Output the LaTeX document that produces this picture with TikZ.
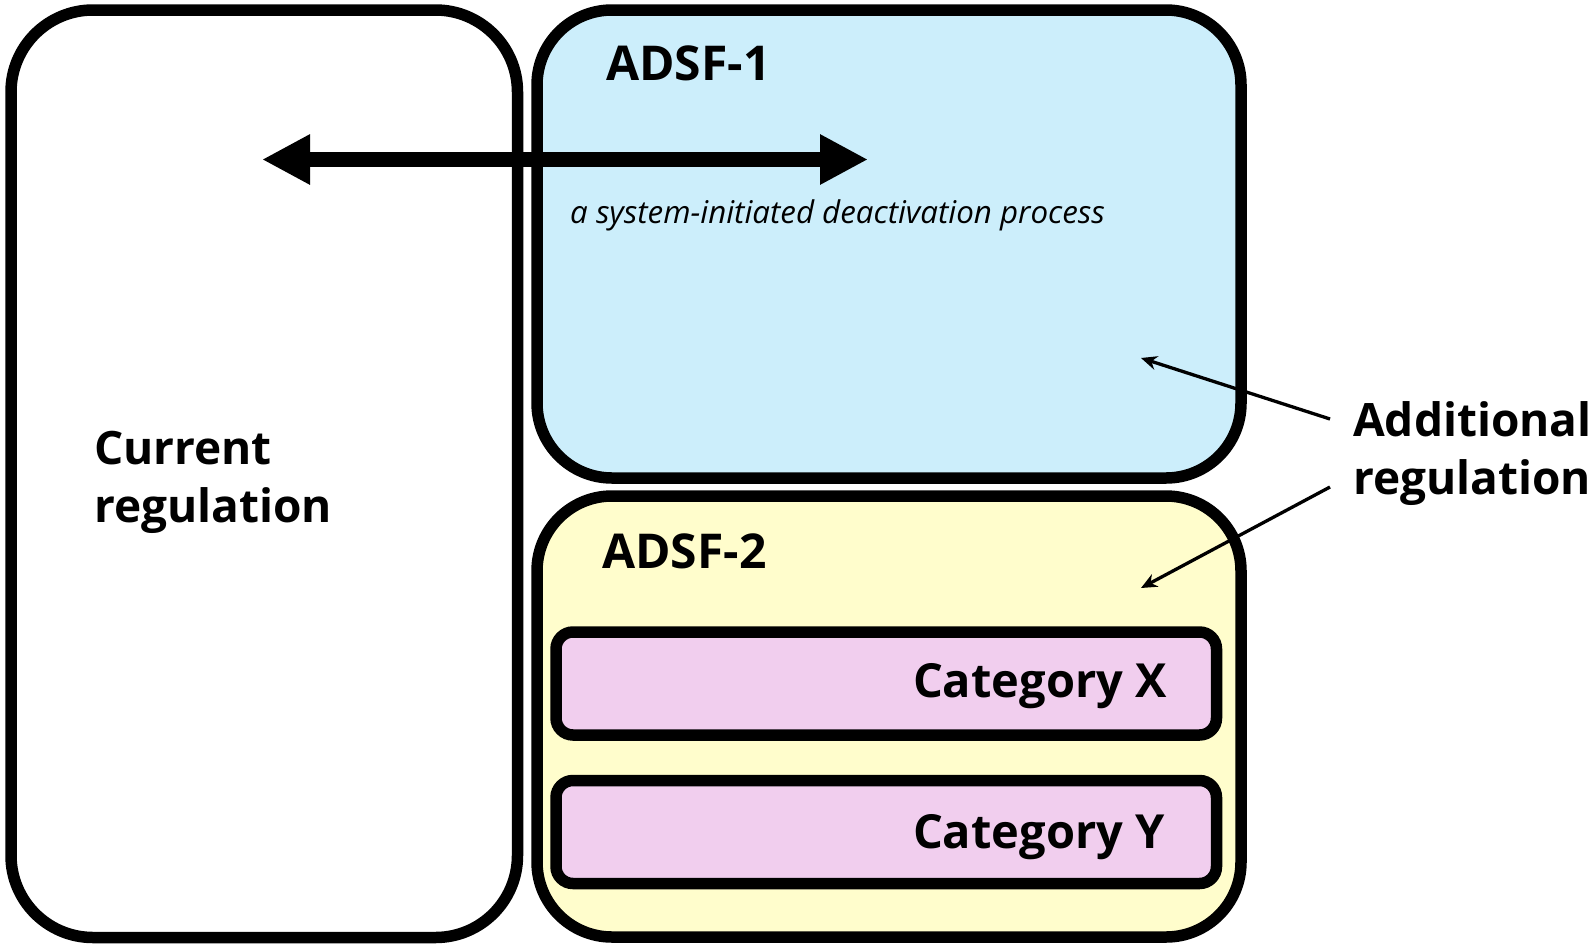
\documentclass[tikz,border=0pt]{standalone}
\usepackage{fontspec}
\setsansfont{Open Sans}
\usetikzlibrary{positioning, arrows.meta}

\definecolor{adsfblue}{RGB}{204,238,251}
\definecolor{adsfyellow}{RGB}{255,253,204}
\definecolor{catpink}{RGB}{241,206,238}

\begin{document}
\begin{tikzpicture}[x=1pt, y=-1pt,
    font=\sffamily\bfseries\fontsize{48}{50}\selectfont,
    region/.style={draw, line width=11.5pt, rounded corners=#1,
                   inner sep=0pt, outer sep=0pt},
    catbox/.style={draw, line width=11.5pt, rounded corners=17pt,
                   fill=catpink, inner sep=0pt, outer sep=0pt,
                   minimum width=660.5pt, minimum height=103pt},
    lbl/.style={inner sep=0pt},
    twoline/.style={align=left, font=\sffamily\bfseries\fontsize{46}{58}\selectfont},
    dblarrow/.style={line width=15pt,
                     {Triangle[length=48pt,width=47pt]}-{Triangle[length=48pt,width=47pt]}},
    pointer/.style={line width=3.3pt, -{Stealth[length=16pt,width=14pt]}}]

    \useasboundingbox (0,0) rectangle (1594,945);

    % regions
    \node[region=82pt,
          minimum width=506.5pt,
          minimum height=927.5pt] (cur) at (264.25,473.75) {};
    \node[region=75pt,
          fill=adsfblue,
          minimum width=704pt,
          minimum height=468pt] (adsf1) at (889,244) {};
    \node[region=75pt,
          fill=adsfyellow,
          minimum width=704pt,
          minimum height=441pt] (adsf2) at (889,716.5) {};
    \node[catbox] (catx) at (886.25,683.5) {};
    \node[catbox, below=45.5pt of catx] (caty) {};

    % labels
    \node[lbl, twoline, anchor=west] (curlbl) at (94,482) {Current\\regulation};
    \node[lbl, anchor=base west] (adsf1lbl) at (606,80) {ADSF-1};
    \node[lbl, anchor=base west] (adsf2lbl) at (602,568) {ADSF-2};
    \node[lbl, anchor=base east,
          font=\sffamily\bfseries\fontsize{47}{50}\selectfont] (catxlbl) at (1167,697) {Category X};
    \node[lbl, anchor=base east,
          font=\sffamily\bfseries\fontsize{47}{50}\selectfont] (catylbl) at (1165,848) {Category Y};
    \node[lbl, anchor=base west,
          font=\sffamily\itshape\fontsize{31.3}{36}\selectfont] (proc) at (570,223)
          {a system-initiated deactivation process};
    \node[twoline, anchor=west,
          inner xsep=23pt, inner ysep=0pt] (addl) at (1330,454) {Additional\\regulation};

    % arrows
    \coordinate (leftend) at (262,159.5);
    \coordinate (rightend) at (868,159.5);
    \draw[dblarrow] (leftend) -- (rightend);

    \coordinate (tipa) at (1141,358);
    \coordinate (tipb) at (1141,588);
    \draw[pointer] ([yshift=35pt]addl.west) -- (tipa);
    \draw[pointer] ([yshift=-33pt]addl.west) -- (tipb);
\end{tikzpicture}
\end{document}
